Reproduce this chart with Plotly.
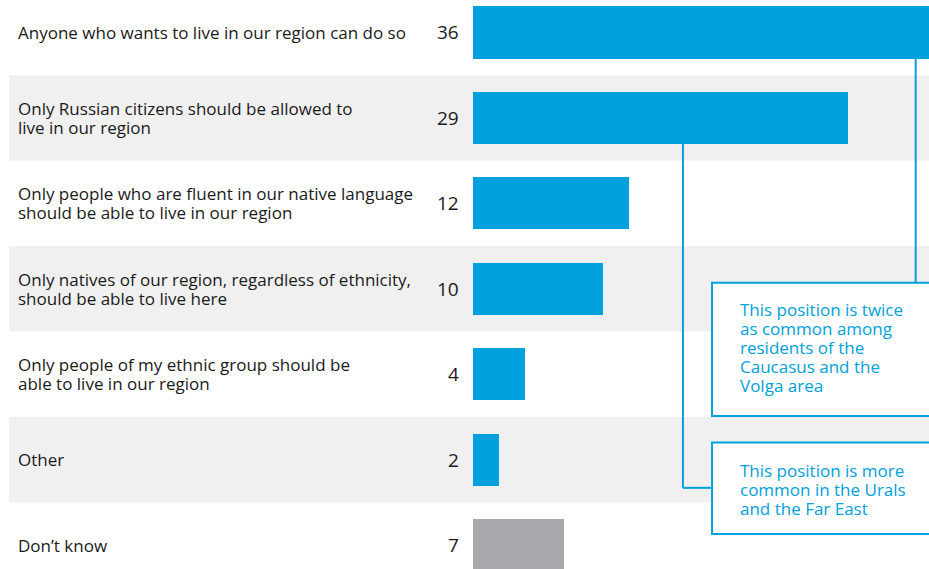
import plotly.graph_objects as go

# Survey answers: who should be allowed to live in the region (%)
categories = [
    "Anyone who wants to live in our region can do so",
    "Only Russian citizens should be allowed to<br>live in our region",
    "Only people who are fluent in our native language<br>should be able to live in our region",
    "Only natives of our region, regardless of ethnicity,<br>should be able to live here",
    "Only people of my ethnic group should be<br>able to live in our region",
    "Other",
    "Don\u2019t know",
]
values = [36, 29, 12, 10, 4, 2, 7]
callouts = [
    "This position is twice<br>as common among<br>residents of the<br>Caucasus and the<br>Volga area",
    "This position is more<br>common in the Urals<br>and the Far East",
]

BLUE = "#00a1dc"
GREY_BAR = "#a7a8ab"
BAND = "#f0f0f0"
TEXT = "#1a1a1a"
FONT = "Open Sans"

TEXT_PX = 17            # glyph size of labels and callouts
LINE_PX = 19.0          # line pitch; plotly spaces lines at 1.3 x the base font size
BASE_PX = LINE_PX / 1.3

rows = list(range(len(categories)))
colors = [BLUE] * (len(values) - 1) + [GREY_BAR]
BAR_W = 0.61

fig = go.Figure()
fig.add_trace(go.Bar(
    x=values, y=rows, orientation="h", width=BAR_W, base=0,
    marker=dict(color=colors, line=dict(width=0)),
    hoverinfo="skip",
))

shapes = []
# alternating row bands
for i in rows:
    if i % 2 == 1:
        shapes.append(dict(type="rect", layer="below", xref="paper", yref="y",
                           x0=9 / 929, x1=1, y0=i - 0.5, y1=i + 0.5,
                           fillcolor=BAND, line=dict(width=0)))


def tight(text):
    """Larger glyphs on a tighter line pitch than plotly's default."""
    return "<br>".join(f'<span style="font-size:{TEXT_PX}px">{p}</span>'
                       for p in text.split("<br>"))


annotations = []
for i, (cat, v) in enumerate(zip(categories, values)):
    annotations.append(dict(xref="paper", yref="y", x=16 / 929, y=i, text=tight(cat),
                            xanchor="left", yanchor="middle", align="left", showarrow=False,
                            font=dict(family=FONT, size=BASE_PX, color=TEXT)))
    annotations.append(dict(xref="x", yref="y", x=-0.95, y=i, text=str(v),
                            xanchor="right", yanchor="middle", showarrow=False,
                            font=dict(family=FONT, size=19, color=TEXT)))

line = dict(color=BLUE, width=2)
# callout boxes (right edge runs past the frame)
box1 = dict(x0=18.45, x1=40, y0=2.93, y1=4.49)
box2 = dict(x0=18.45, x1=40, y0=4.80, y1=5.87)
for b in (box1, box2):
    shapes.append(dict(type="rect", xref="x", yref="y", fillcolor="white", line=line, **b))

# connector from the first bar down to the first box
shapes.append(dict(type="line", xref="x", yref="y", x0=34.2, x1=34.2,
                   y0=0 + BAR_W / 2, y1=box1["y0"], line=line))
# connector from the second bar down and across to the second box
shapes.append(dict(type="line", xref="x", yref="y", x0=16.2, x1=16.2,
                   y0=1 + BAR_W / 2, y1=5.33, line=line))
shapes.append(dict(type="line", xref="x", yref="y", x0=16.2, x1=box2["x0"],
                   y0=5.33, y1=5.33, line=line))

for txt, yc in zip(callouts, (3.689, 5.345)):
    annotations.append(dict(xref="x", yref="y", x=20.45, y=yc, text=tight(txt),
                            xanchor="left", yanchor="middle", align="left", showarrow=False,
                            font=dict(family=FONT, size=BASE_PX, color=BLUE)))

fig.update_layout(
    width=929, height=569,
    margin=dict(l=0, r=0, t=0, b=0),
    paper_bgcolor="white", plot_bgcolor="rgba(0,0,0,0)",
    showlegend=False,
    xaxis=dict(range=[-36.62, 35.23], visible=False, fixedrange=True),
    yaxis=dict(range=[6.28, -0.38], visible=False, fixedrange=True),
    shapes=shapes, annotations=annotations,
    bargap=0,
)

fig.write_html("out.html", config={"displayModeBar": False})
